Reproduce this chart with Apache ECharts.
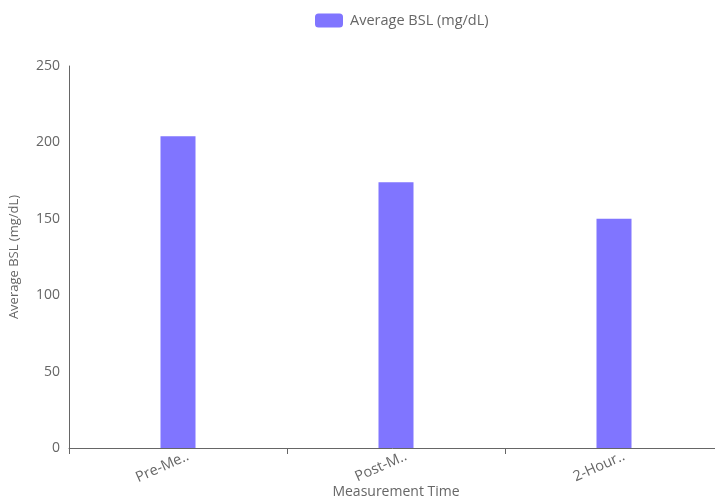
<!DOCTYPE html>
<html><head><meta charset="utf-8">
<script src="https://cdn.jsdelivr.net/npm/echarts@6/dist/echarts.min.js"></script>
<style>html,body{margin:0;padding:0;background:#fff}#c{width:715px;height:504px}</style>
</head><body><div id="c"></div>
<script>
const categories = ['Pre-Me..', 'Post-M..', '2-Hour..'];
const seriesName = 'Average BSL (mg/dL)';
const values = [204, 174, 150];
const yTicks = [0, 50, 100, 150, 200, 250];

const chart = echarts.init(document.getElementById('c'));
const font = 'Open Sans, Noto Sans, sans-serif';
chart.setOption({
  animation: false,
  textStyle: { fontFamily: font },
  legend: {
    top: 8, left: 310,
    itemWidth: 28, itemHeight: 14, icon: 'roundRect',
    textStyle: { color: '#666', fontSize: 14.5, fontFamily: font, padding: [0, 0, 0, 2] },
    data: [seriesName]
  },
  grid: { left: 69, width: 654, top: 66, bottom: 56, containLabel: false, outerBoundsMode: 'none' },
  xAxis: {
    type: 'category', data: categories,
    name: 'Measurement Time', nameLocation: 'middle', nameGap: 37, nameMoveOverlap: false,
    nameTextStyle: { color: '#666', fontSize: 14 },
    axisLine: { lineStyle: { color: '#666' } },
    axisTick: { show: true, interval: 0, alignWithLabel: false, length: 6, lineStyle: { color: '#666' } },
    axisLabel: { color: '#666', fontSize: 14.5, rotate: 24, margin: 12, padding: [0, -11, 0, 0] }
  },
  yAxis: {
    type: 'value', min: yTicks[0], max: yTicks[yTicks.length - 1], interval: 50,
    name: seriesName, nameLocation: 'middle', nameGap: 48,
    nameTextStyle: { color: '#666', fontSize: 13 },
    axisLine: { show: true, lineStyle: { color: '#666' } },
    axisTick: { show: false },
    splitLine: { show: false },
    axisLabel: { color: '#666', fontSize: 14, margin: 9 }
  },
  series: [{
    name: seriesName, type: 'bar', data: values, barWidth: 35,
    itemStyle: { color: '#8075ff' }
  }]
});
</script></body></html>
